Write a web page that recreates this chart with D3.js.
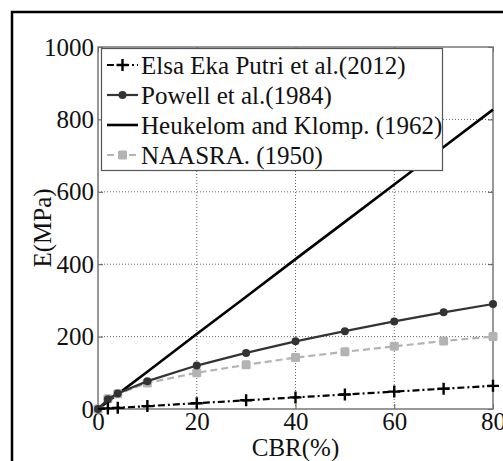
<!DOCTYPE html>
<html>
<head>
<meta charset="utf-8">
<script src="https://cdn.jsdelivr.net/npm/d3@7"></script>
<style>
  body { margin: 0; background: #fff; }
  svg text { font-family: "Liberation Serif", "Times New Roman", Times, "DejaVu Serif", serif !important; }
  .grid line { stroke: #666; stroke-width: 1; stroke-dasharray: 1,2; }
</style>
</head>
<body>
<div id="chart"></div>
<script>
  const cbr = [0, 2, 4, 10, 20, 30, 40, 50, 60, 70, 80];
  const elsa = [0, 1.6, 3.2, 8, 16, 24, 32, 40, 48, 56, 64];
  const powell = [0, 27, 43, 77, 120, 155, 187, 215, 242, 267, 290];
  const heukelom = [0, 21, 41, 103, 207, 310, 414, 517, 620, 724, 827];
  const naasra = [0, 28, 42, 72, 100, 122, 142, 158, 173, 188, 200];

  const xTicks = [0, 20, 40, 60, 80];
  const yTicks = [0, 200, 400, 600, 800, 1000];

  const legendLabels = [
    "Elsa Eka Putri et al.(2012)",
    "Powell et al.(1984)",
    "Heukelom and Klomp. (1962)",
    "NAASRA. (1950)"
  ];

  const W = 503, H = 461;
  const fontSize = 25;

  const svg = d3.select("#chart").append("svg")
    .attr("width", W)
    .attr("height", H);

  // outer frame (runs off the picture at right and bottom)
  svg.append("rect")
    .attr("x", 12).attr("y", 12)
    .attr("width", W + 20).attr("height", H + 20)
    .attr("fill", "none")
    .attr("stroke", "#000")
    .attr("stroke-width", 2.5);

  const x = d3.scaleLinear().domain([0, 80]).range([98, 493]);
  const y = d3.scaleLinear().domain([0, 1000]).range([409, 47]);

  const g = svg.append("g");

  // grid
  const grid = g.append("g").attr("class", "grid");
  grid.selectAll("line.v")
    .data(xTicks.slice(1, -1))
    .join("line")
    .attr("x1", d => x(d)).attr("x2", d => x(d))
    .attr("y1", y(0)).attr("y2", y(1000));
  grid.selectAll("line.h")
    .data(yTicks.slice(1, -1))
    .join("line")
    .attr("x1", x(0)).attr("x2", x(80))
    .attr("y1", d => y(d)).attr("y2", d => y(d));

  // axes with inward ticks
  const tickLen = 5;
  const fmt = d3.format("d");
  g.append("g")
    .attr("transform", "translate(0," + y(0) + ")")
    .call(d3.axisBottom(x).tickValues(xTicks).tickFormat(fmt)
      .tickSizeInner(-tickLen).tickSizeOuter(0).tickPadding(3))
    .call(a => a.select(".domain").remove())
    .call(a => a.selectAll("line").attr("stroke", "#555"))
    .call(a => a.selectAll("text")
      .attr("font-size", fontSize).attr("fill", "#111").attr("dy", "0.71em"));

  g.append("g")
    .attr("transform", "translate(" + x(0) + ",0)")
    .call(d3.axisLeft(y).tickValues(yTicks).tickFormat(fmt)
      .tickSizeInner(-tickLen).tickSizeOuter(0).tickPadding(4))
    .call(a => a.select(".domain").remove())
    .call(a => a.selectAll("line").attr("stroke", "#555"))
    .call(a => a.selectAll("text")
      .attr("font-size", fontSize).attr("fill", "#111"));

  g.append("g")
    .attr("transform", "translate(" + x(80) + ",0)")
    .call(d3.axisRight(y).tickValues(yTicks).tickSizeInner(-tickLen).tickSizeOuter(0).tickFormat(""))
    .call(a => a.select(".domain").remove())
    .call(a => a.selectAll("line").attr("stroke", "#555"));

  g.append("g")
    .attr("transform", "translate(0," + y(1000) + ")")
    .call(d3.axisTop(x).tickValues(xTicks).tickSizeInner(-tickLen).tickSizeOuter(0).tickFormat(""))
    .call(a => a.select(".domain").remove())
    .call(a => a.selectAll("line").attr("stroke", "#555"));

  // plot box
  g.append("rect")
    .attr("x", x(0)).attr("y", y(1000))
    .attr("width", x(80) - x(0)).attr("height", y(0) - y(1000))
    .attr("fill", "none")
    .attr("stroke", "#777")
    .attr("stroke-width", 1.5);

  // axis titles
  svg.append("text")
    .attr("x", (x(0) + x(80)) / 2)
    .attr("y", 456)
    .attr("text-anchor", "middle")
    .attr("font-size", fontSize)
    .attr("fill", "#111")
    .text("CBR(%)");

  svg.append("text")
    .attr("transform", "translate(51," + ((y(0) + y(1000)) / 2) + ") rotate(-90)")
    .attr("text-anchor", "middle")
    .attr("font-size", fontSize)
    .attr("fill", "#111")
    .text("E(MPa)");

  const line = d3.line()
    .x((d, i) => x(cbr[i]))
    .y(d => y(d));

  const series = [
    {values: heukelom, color: "#000", width: 2.6, dash: null, marker: "none"},
    {values: naasra, color: "#b3b3b3", width: 2.2, dash: "7,4", marker: "square"},
    {values: powell, color: "#333", width: 2.2, dash: null, marker: "circle"},
    {values: elsa, color: "#000", width: 2.2, dash: "7,3,2,3", marker: "plus"}
  ];

  function drawMarker(sel, s, px, py) {
    if (s.marker === "circle") {
      sel.append("circle").attr("cx", px).attr("cy", py).attr("r", 4).attr("fill", s.color);
    } else if (s.marker === "square") {
      sel.append("rect").attr("x", px - 4.5).attr("y", py - 4.5)
        .attr("width", 9).attr("height", 9).attr("rx", 1.5).attr("fill", s.color);
    } else if (s.marker === "plus") {
      sel.append("path")
        .attr("d", "M" + (px - 6) + "," + py + "H" + (px + 6) + "M" + px + "," + (py - 6) + "V" + (py + 6))
        .attr("stroke", s.color).attr("stroke-width", 2.4);
    }
  }

  series.forEach(s => {
    g.append("path")
      .attr("d", line(s.values))
      .attr("fill", "none")
      .attr("stroke", s.color)
      .attr("stroke-width", s.width)
      .attr("stroke-dasharray", s.dash);
    const m = g.append("g");
    s.values.forEach((v, i) => {
      if (s.marker === "plus" && i === 0) return;
      drawMarker(m, s, x(cbr[i]), y(v));
    });
  });

  // legend
  const legend = svg.append("g");
  legend.append("rect")
    .attr("x", 101.5).attr("y", 48.5)
    .attr("width", 341).attr("height", 122)
    .attr("fill", "#fff")
    .attr("stroke", "#555")
    .attr("stroke-width", 1.2);

  const legendSeries = [series[3], series[2], series[0], series[1]];
  legendSeries.forEach((s, i) => {
    const ly = 65 + i * 30;
    legend.append("path")
      .attr("d", "M107," + ly + "H138")
      .attr("stroke", s.color)
      .attr("stroke-width", s.width)
      .attr("stroke-dasharray", s.dash);
    drawMarker(legend, s, 122.5, ly);
    legend.append("text")
      .attr("x", 141)
      .attr("y", ly)
      .attr("dy", "0.35em")
      .attr("font-size", fontSize)
      .attr("fill", "#111")
      .text(legendLabels[i]);
  });
</script>
</body>
</html>
